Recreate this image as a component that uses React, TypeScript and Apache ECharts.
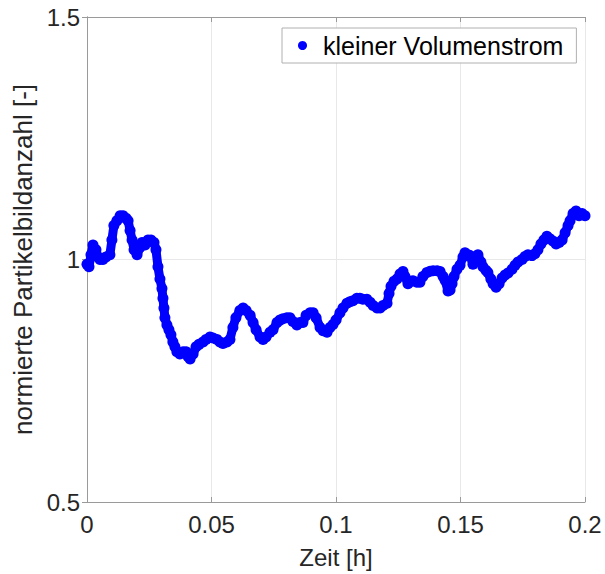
import React, { useEffect, useRef } from "react";
import * as echarts from "echarts";

const seriesName = "kleiner Volumenstrom";
const xTitle = "Zeit [h]";
const yTitle = "normierte Partikelbildanzahl [-]";

const xTicks = [0, 0.05, 0.1, 0.15, 0.2];
const yTicks = [0.5, 1, 1.5];

const times = [
  0.0, 0.0008, 0.0016, 0.0024, 0.0036, 0.0044, 0.0052, 0.0064, 0.0076, 0.0092,
  0.01, 0.0108, 0.012, 0.0133, 0.0145, 0.0157, 0.0165, 0.0173, 0.0181, 0.0189,
  0.0201, 0.0213, 0.0221, 0.0233, 0.0245, 0.0257, 0.0269, 0.0277, 0.0285, 0.0293,
  0.0301, 0.0305, 0.0309, 0.0313, 0.0321, 0.0329, 0.0337, 0.0345, 0.0353, 0.0361,
  0.0373, 0.0386, 0.0398, 0.0406, 0.0414, 0.0426, 0.0438, 0.045, 0.0466, 0.0478,
  0.0494, 0.0506, 0.0522, 0.0534, 0.0546, 0.0562, 0.0574, 0.0586, 0.0598, 0.0614,
  0.0627, 0.0639, 0.0655, 0.0667, 0.0679, 0.0695, 0.0707, 0.0719, 0.0735, 0.0747,
  0.0763, 0.0775, 0.0787, 0.0803, 0.0815, 0.0827, 0.0843, 0.0855, 0.0867, 0.088,
  0.0896, 0.0908, 0.092, 0.0936, 0.0948, 0.0964, 0.0976, 0.0988, 0.1, 0.1016,
  0.1028, 0.1044, 0.1056, 0.1068, 0.1084, 0.1096, 0.1108, 0.1124, 0.1137, 0.1149,
  0.1165, 0.1177, 0.1189, 0.1205, 0.1213, 0.1221, 0.1233, 0.1245, 0.1257, 0.1269,
  0.1277, 0.1289, 0.1301, 0.1309, 0.1325, 0.1337, 0.1349, 0.1365, 0.1378, 0.139,
  0.1406, 0.1418, 0.143, 0.1438, 0.145, 0.1458, 0.1466, 0.1474, 0.1486, 0.1498,
  0.151, 0.1518, 0.153, 0.1538, 0.155, 0.1562, 0.157, 0.1582, 0.159, 0.1602,
  0.161, 0.1622, 0.1631, 0.1643, 0.1655, 0.1667, 0.1679, 0.1691, 0.1707, 0.1719,
  0.1731, 0.1747, 0.1759, 0.1771, 0.1787, 0.1799, 0.1811, 0.1823, 0.1835, 0.1847,
  0.1859, 0.1871, 0.1884, 0.1896, 0.1908, 0.192, 0.1932, 0.194, 0.1952, 0.1964,
  0.1976, 0.1988, 0.2,
];

const values = [
  0.99, 0.985, 1.01, 1.03, 1.02, 1.005, 1.0, 1.0, 1.005, 1.01,
  1.04, 1.07, 1.08, 1.09, 1.09, 1.085, 1.08, 1.06, 1.04, 1.02,
  1.01, 1.025, 1.035, 1.03, 1.04, 1.04, 1.035, 1.02, 0.985, 0.96,
  0.94, 0.92, 0.9, 0.88, 0.865, 0.855, 0.845, 0.83, 0.82, 0.81,
  0.805, 0.81, 0.81, 0.8, 0.795, 0.805, 0.82, 0.825, 0.83, 0.835,
  0.84, 0.838, 0.835, 0.83, 0.827, 0.83, 0.835, 0.86, 0.88, 0.895,
  0.9, 0.895, 0.885, 0.87, 0.855, 0.84, 0.835, 0.84, 0.85, 0.855,
  0.87, 0.875, 0.878, 0.88, 0.88, 0.872, 0.865, 0.87, 0.87, 0.885,
  0.89, 0.89, 0.88, 0.86, 0.853, 0.85, 0.86, 0.866, 0.875, 0.89,
  0.9, 0.91, 0.913, 0.915, 0.92, 0.92, 0.918, 0.918, 0.912, 0.905,
  0.9, 0.9, 0.905, 0.91, 0.93, 0.945, 0.955, 0.96, 0.97, 0.975,
  0.965, 0.95, 0.955, 0.956, 0.953, 0.953, 0.965, 0.973, 0.976, 0.977,
  0.977, 0.975, 0.965, 0.957, 0.935, 0.937, 0.95, 0.965, 0.98, 0.988,
  1.005, 1.014, 1.01, 1.008, 0.99, 1.0, 1.01, 0.995, 0.985, 0.978,
  0.973, 0.96, 0.95, 0.943, 0.95, 0.962, 0.968, 0.972, 0.98, 0.988,
  0.995, 1.0, 1.006, 1.01, 1.008, 1.012, 1.02, 1.032, 1.04, 1.048,
  1.043, 1.038, 1.032, 1.035, 1.04, 1.055, 1.07, 1.08, 1.095, 1.1,
  1.09, 1.095, 1.09,
];

const FONT = "'Liberation Sans', Arial, Helvetica, sans-serif";
const TEXT = "#262626";
const FRAME = "#9a9a9a";
const GRIDC = "#e8e8e8";

export default function App() {
  const ref = useRef<HTMLDivElement>(null);

  useEffect(() => {
    document.body.style.margin = "0";
    if (!ref.current) return;
    const chart = echarts.init(ref.current, null, { renderer: "svg" });
    const data = times.map((t, i) => [t, values[i]]);
    const xMin = xTicks[0];
    const xMax = xTicks[xTicks.length - 1];
    const xInt = xTicks[1] - xTicks[0];
    const yMin = yTicks[0];
    const yMax = yTicks[yTicks.length - 1];
    const yInt = yTicks[1] - yTicks[0];

    chart.setOption({
      animation: false,
      backgroundColor: "#ffffff",
      textStyle: { fontFamily: FONT },
      grid: { left: 87, right: 20, top: 17, bottom: 67, containLabel: false },
      legend: {
        show: true,
        left: 282,
        top: 28,
        orient: "horizontal",
        icon: "circle",
        itemWidth: 9,
        itemHeight: 9,
        padding: [5, 13, 5, 16],
        borderColor: "#b0b0b0",
        borderWidth: 1,
        backgroundColor: "#ffffff",
        textStyle: {
          fontSize: 25,
          color: "#000000",
          fontFamily: FONT,
          padding: [0, 0, 0, 11],
        },
        data: [{ name: seriesName, itemStyle: { color: "#0000ff" } }],
      },
      xAxis: [
        {
          type: "value",
          min: xMin,
          max: xMax,
          interval: xInt,
          name: xTitle,
          nameLocation: "middle",
          nameGap: 43,
          nameTextStyle: { fontSize: 24, color: TEXT, fontFamily: FONT },
          axisLine: { show: true, lineStyle: { color: FRAME, width: 1 } },
          axisTick: { show: true, inside: true, length: 5, lineStyle: { color: FRAME } },
          axisLabel: {
            fontSize: 24,
            color: TEXT,
            margin: 10,
            fontFamily: FONT,
            formatter: (v: number) => String(parseFloat(v.toFixed(4))),
          },
          splitLine: { show: true, lineStyle: { color: GRIDC, width: 1 } },
        },
        {
          type: "value",
          position: "top",
          min: xMin,
          max: xMax,
          interval: xInt,
          axisLine: { show: true, lineStyle: { color: FRAME, width: 1 } },
          axisTick: { show: true, inside: true, length: 5, lineStyle: { color: FRAME } },
          axisLabel: { show: false },
          splitLine: { show: false },
        },
      ],
      yAxis: [
        {
          type: "value",
          min: yMin,
          max: yMax,
          interval: yInt,
          name: yTitle,
          nameLocation: "middle",
          nameGap: 47,
          nameRotate: 90,
          nameTextStyle: { fontSize: 26, color: TEXT, fontFamily: FONT },
          axisLine: { show: true, lineStyle: { color: FRAME, width: 1 } },
          axisTick: { show: true, inside: true, length: 5, lineStyle: { color: FRAME } },
          axisLabel: {
            fontSize: 24,
            color: TEXT,
            margin: 7,
            fontFamily: FONT,
            formatter: (v: number) => String(parseFloat(v.toFixed(4))),
          },
          splitLine: { show: true, lineStyle: { color: GRIDC, width: 1 } },
        },
        {
          type: "value",
          position: "right",
          min: yMin,
          max: yMax,
          interval: yInt,
          axisLine: { show: true, lineStyle: { color: FRAME, width: 1 } },
          axisTick: { show: true, inside: true, length: 5, lineStyle: { color: FRAME } },
          axisLabel: { show: false },
          splitLine: { show: false },
        },
      ],
      series: [
        {
          name: seriesName,
          type: "line",
          xAxisIndex: 0,
          yAxisIndex: 0,
          data,
          symbol: "circle",
          symbolSize: 11,
          showSymbol: true,
          showAllSymbol: true,
          itemStyle: { color: "#0000ff" },
          lineStyle: { color: "#0000ff", width: 9 },
          clip: false,
          z: 3,
        },
      ],
    });

    return () => chart.dispose();
  }, []);

  return <div ref={ref} style={{ width: 605, height: 574 }} />;
}
